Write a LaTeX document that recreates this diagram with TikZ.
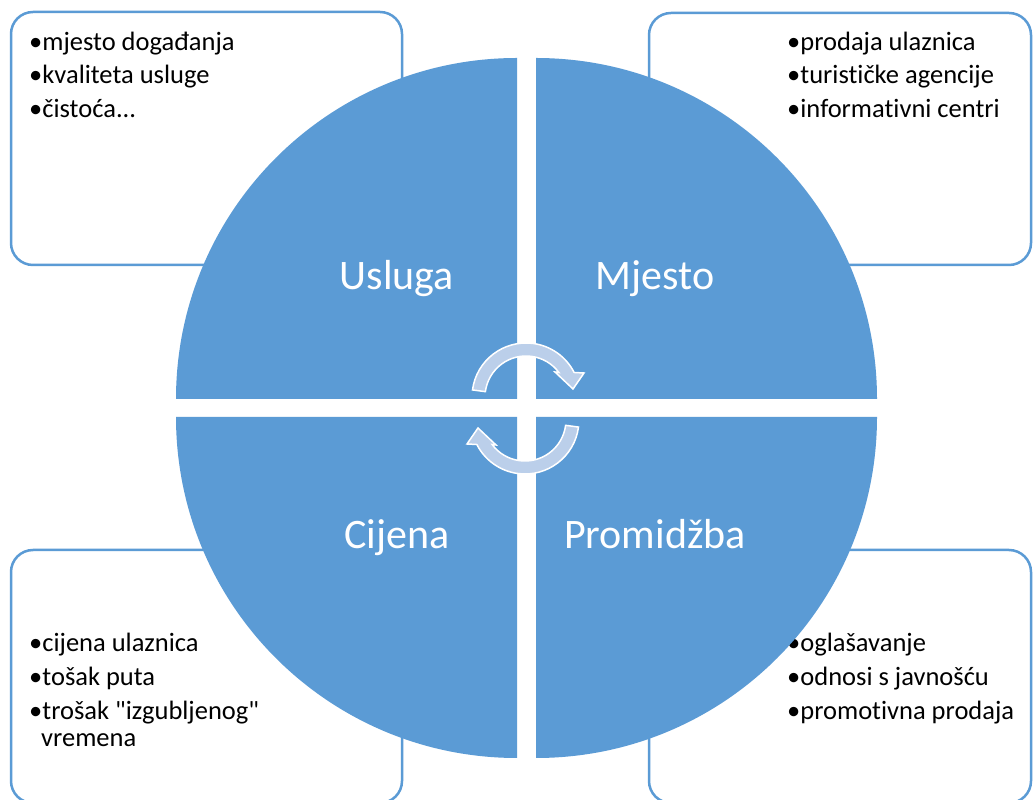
\documentclass[tikz,border=0pt]{standalone}
\usepackage{fontspec}
\setmainfont{Carlito}[Ligatures={TeXOff,NoCommon}]
\definecolor{qblue}{RGB}{91,155,213}
\definecolor{arrowfill}{RGB}{187,207,234}
\begin{document}
\begin{tikzpicture}[x=1pt,y=1pt,
  infobox/.style={draw=qblue,line width=2.5pt,fill=white,rounded corners=22pt},
  quad/.style={fill=qblue},
  itemtext/.style={anchor=base west,inner sep=0pt,font=\fontsize{26.5}{30}\selectfont},
  quadlabel/.style={anchor=base,inner sep=0pt,text=white,font=\fontsize{42}{50}\selectfont},
  cyclearrow/.style={fill=arrowfill,draw=white,line width=1.5pt,line join=miter}]
\useasboundingbox (0,0) rectangle (1033,800);
\clip (0,0) rectangle (1033,800);
\fill[white] (0,0) rectangle (1033,800);
% boxes
\draw[infobox] (11,535) rectangle (402,788);
\draw[infobox] (649,535) rectangle (1031,787);
\draw[infobox] (11,-3) rectangle (402,250);
\draw[infobox] (649,-3) rectangle (1031,250);
% box texts
\node[itemtext] (tl1) at (29,749) {•mjesto događanja};
\node[itemtext] (tl2) at (29,716) {•kvaliteta usluge};
\node[itemtext] (tl3) at (29,682) {•čistoća...};
\node[itemtext] (tr1) at (787,749) {•prodaja ulaznica};
\node[itemtext] (tr2) at (787,716) {•turističke agencije};
\node[itemtext] (tr3) at (787,682) {•informativni centri};
\node[itemtext] (bl1) at (29,148) {•cijena ulaznica};
\node[itemtext] (bl2) at (29,114) {•tošak puta};
\node[itemtext] (bl3) at (29,80) {•trošak "izgubljenog"};
\node[itemtext] (bl4) at (41,53) {vremena};
\node[itemtext] (br1) at (787,148) {•oglašavanje};
\node[itemtext] (br2) at (787,114) {•odnosi s javnošću};
\node[itemtext] (br3) at (787,80) {•promotivna prodaja};
% quadrants
\fill[quad] (517,401) -- (176,401) arc[start angle=180,end angle=90,radius=341] -- cycle;
\fill[quad] (536,401) -- (536,742) arc[start angle=90,end angle=0,radius=341] -- cycle;
\fill[quad] (517,383) -- (176,383) arc[start angle=180,end angle=270,radius=341] -- cycle;
\fill[quad] (536,383) -- (877,383) arc[start angle=0,end angle=-90,radius=341] -- cycle;
% labels
\node[quadlabel] (usluga) at (397,510) {Usluga};
\node[quadlabel] (mjesto) at (655,510) {Mjesto};
\node[quadlabel] (cijena) at (397,251) {Cijena};
\node[quadlabel] (promidzba) at (655,251) {Promidžba};
% cycle arrows
\draw[cyclearrow] (472.5,410.05) arc[start angle=172.5,end angle=27,radius=54]
  -- (584,427) -- (573,411) -- (555,428) -- (558.9,427.5)
  arc[start angle=36.7,end angle=172.5,radius=41] -- cycle;
\begin{scope}[rotate around={180:(525.5,391.5)}]
\draw[cyclearrow] (472.5,410.05) arc[start angle=172.5,end angle=27,radius=54]
  -- (584,427) -- (573,411) -- (555,428) -- (558.9,427.5)
  arc[start angle=36.7,end angle=172.5,radius=41] -- cycle;
\end{scope}
\end{tikzpicture}
\end{document}
